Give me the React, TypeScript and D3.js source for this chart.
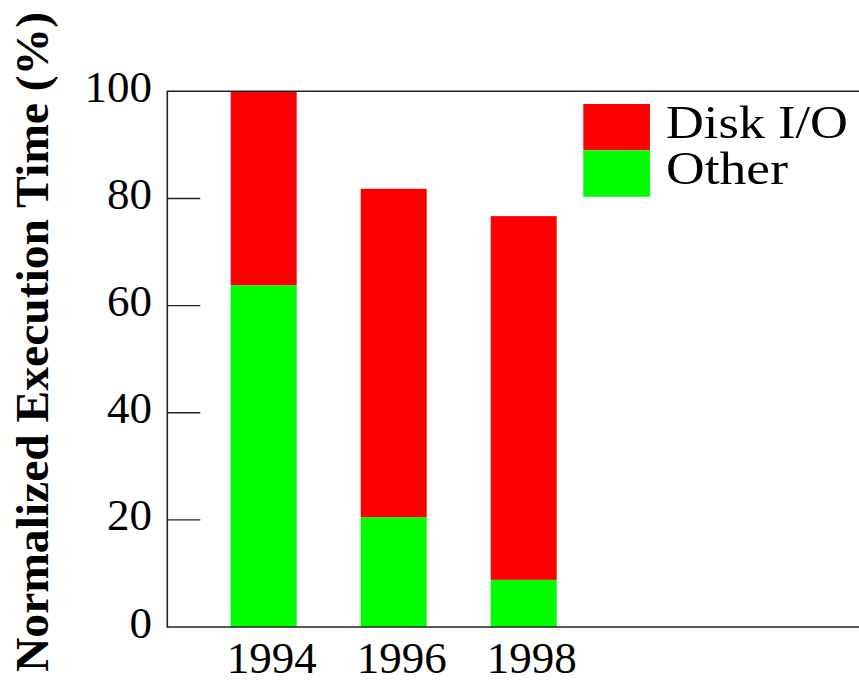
import React, { useEffect, useRef } from "react";
import * as d3 from "d3";

// data
const years = ["1994", "1996", "1998"];
const otherPct = [63.8, 20.5, 8.8];
const diskPct = [36.2, 61.3, 67.9];
const seriesKeys = ["other", "disk"];
const legendKeys = ["disk", "other"];
const seriesLabels = ["Disk I/O", "Other"];
const yTicks = [0, 20, 40, 60, 80, 100];

const colors: Record<string, string> = { other: "#00ff00", disk: "#ff0000" };

const App: React.FC = () => {
  const ref = useRef<SVGSVGElement | null>(null);

  useEffect(() => {
    if (!ref.current) return;
    const svg = d3.select(ref.current);
    svg.selectAll("*").remove();

    const W = 859;
    const H = 683;
    const margin = { top: 91.3, right: 0, bottom: 56, left: 167.3 };
    const plotBottom = H - margin.bottom; // ~627
    const font = "'Liberation Serif', 'Times New Roman', serif";

    const y = d3.scaleLinear().domain([0, 100]).range([plotBottom, margin.top]);

    // bars sit at 231/361/491, 66 wide, 130 apart
    const pad = 64 / 130;
    const x = d3
      .scaleBand<string>()
      .domain(years)
      .range([198.7, 588.7])
      .paddingInner(pad)
      .paddingOuter(pad / 2);

    const rows = years.map((yr, i) => ({
      year: yr,
      other: otherPct[i],
      disk: diskPct[i],
    }));
    const stacked = d3.stack<any>().keys(seriesKeys)(rows);

    // bars
    stacked.forEach((layer) => {
      svg
        .append("g")
        .selectAll("rect")
        .data(layer)
        .join("rect")
        .attr("x", (d: any) => x(d.data.year)!)
        .attr("width", x.bandwidth())
        .attr("y", (d) => y(d[1]))
        .attr("height", (d) => y(d[0]) - y(d[1]))
        .attr("fill", colors[layer.key]);
    });

    // frame: top, left, bottom
    const stroke = "#222";
    svg
      .append("path")
      .attr("d", `M${W},${margin.top}H${margin.left}V${plotBottom}H${W}`)
      .attr("fill", "none")
      .attr("stroke", stroke)
      .attr("stroke-width", 1.6);

    // inward ticks on y
    const yAxis = svg.append("g");
    yAxis
      .selectAll("line")
      .data(yTicks.filter((t) => t !== 0 && t !== 100))
      .join("line")
      .attr("x1", margin.left)
      .attr("x2", margin.left + 33)
      .attr("y1", (d) => y(d))
      .attr("y2", (d) => y(d))
      .attr("stroke", stroke)
      .attr("stroke-width", 1.4);

    yAxis
      .selectAll("text")
      .data(yTicks)
      .join("text")
      .attr("x", 152)
      .attr("y", (d) => y(d) + 10.5)
      .attr("text-anchor", "end")
      .style("font-family", font)
      .style("font-size", "45px")
      .attr("fill", "#000")
      .text((d) => d);

    // year labels
    svg
      .append("g")
      .selectAll("text")
      .data(years)
      .join("text")
      .attr("x", (d) => x(d)! + x.bandwidth() / 2 + 8)
      .attr("y", 673)
      .attr("text-anchor", "middle")
      .style("font-family", font)
      .style("font-size", "45px")
      .attr("fill", "#000")
      .text((d) => d);

    // y title
    svg
      .append("text")
      .attr("transform", `translate(48,342) rotate(-90)`)
      .attr("text-anchor", "middle")
      .attr("textLength", 660)
      .attr("lengthAdjust", "spacingAndGlyphs")
      .style("font-family", font)
      .style("font-size", "46px")
      .style("font-weight", "bold")
      .attr("fill", "#000")
      .text("Normalized Execution Time (%)");

    // legend
    const legendWidths = [182, 122];
    const legend = svg.append("g").attr("transform", "translate(583.3,104)");
    legendKeys.forEach((k, i) => {
      legend
        .append("rect")
        .attr("x", 0)
        .attr("y", i * 46.4)
        .attr("width", 66.7)
        .attr("height", 46.4)
        .attr("fill", colors[k]);
      legend
        .append("text")
        .attr("x", 82.7)
        .attr("y", i * 46.4 + 34)
        .attr("textLength", legendWidths[i])
        .attr("lengthAdjust", "spacingAndGlyphs")
        .style("font-family", font)
        .style("font-size", "47px")
        .attr("fill", "#000")
        .text(seriesLabels[i]);
    });
  }, []);

  return (
    <svg
      ref={ref}
      width={859}
      height={683}
      style={{ position: "absolute", left: 0, top: 0, background: "#fff" }}
    ></svg>
  );
};

export default App;
